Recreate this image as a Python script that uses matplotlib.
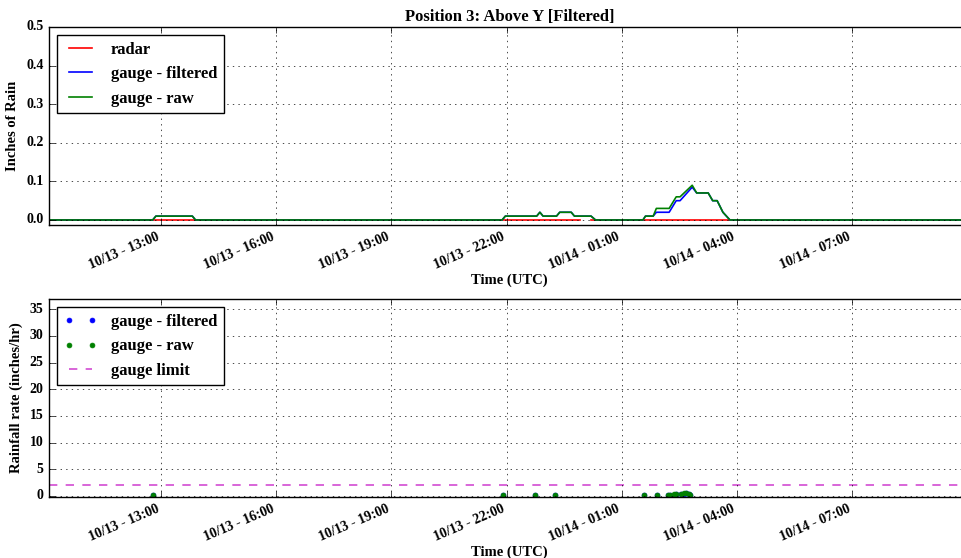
import matplotlib
matplotlib.use("Agg")
import matplotlib.pyplot as plt
import matplotlib.dates as mdates
import numpy as np
import pandas as pd

plt.style.use('classic')
plt.rcParams['font.family'] = ['Liberation Serif', 'DejaVu Serif']
plt.rcParams['font.weight'] = 'bold'
plt.rcParams['axes.labelweight'] = 'bold'
plt.rcParams['axes.titleweight'] = 'bold'

# cumulative rain (inches), breakpoints
gauge_times = ["2015-10-13 10:05", "2015-10-13 12:47", "2015-10-13 12:52", "2015-10-13 13:49",
               "2015-10-13 13:54", "2015-10-13 21:53", "2015-10-13 21:58", "2015-10-13 22:47",
               "2015-10-13 22:52", "2015-10-13 22:57", "2015-10-13 23:18", "2015-10-13 23:23",
               "2015-10-13 23:41", "2015-10-13 23:46", "2015-10-14 00:12", "2015-10-14 00:19",
               "2015-10-14 01:33", "2015-10-14 01:37", "2015-10-14 01:49", "2015-10-14 01:54",
               "2015-10-14 02:14", "2015-10-14 02:25", "2015-10-14 02:31", "2015-10-14 02:50",
               "2015-10-14 02:57", "2015-10-14 03:15", "2015-10-14 03:22", "2015-10-14 03:29",
               "2015-10-14 03:38", "2015-10-14 03:49", "2015-10-14 10:05"]
gauge_raw = [0, 0, 0.01, 0.01, 0, 0, 0.01, 0.01, 0.02, 0.01, 0.01, 0.02, 0.02, 0.01, 0.01, 0,
             0, 0.01, 0.01, 0.03, 0.03, 0.06, 0.06, 0.09, 0.07, 0.07, 0.05, 0.05, 0.02, 0, 0]
gauge_filtered = [0, 0, 0.01, 0.01, 0, 0, 0.01, 0.01, 0.02, 0.01, 0.01, 0.02, 0.02, 0.01, 0.01, 0,
                  0, 0.01, 0.01, 0.02, 0.02, 0.05, 0.05, 0.085, 0.07, 0.07, 0.05, 0.05, 0.02, 0, 0]

radar_times = ["2015-10-13 10:05", "2015-10-13 23:55", "2015-10-14 00:03",
               "2015-10-14 00:12", "2015-10-14 10:05"]
radar_vals = [0, 0, np.nan, 0, 0]

# rainfall rate (inches/hr)
rate_times = ["2015-10-13 12:47", "2015-10-13 21:54", "2015-10-13 22:45", "2015-10-13 23:16",
              "2015-10-14 01:35", "2015-10-14 01:55", "2015-10-14 02:12", "2015-10-14 02:16",
              "2015-10-14 02:21", "2015-10-14 02:25", "2015-10-14 02:33", "2015-10-14 02:37",
              "2015-10-14 02:41", "2015-10-14 02:45", "2015-10-14 02:47"]
rate_raw = [0.12, 0.12, 0.12, 0.12, 0.12, 0.12, 0.24, 0.24, 0.36, 0.36, 0.36, 0.48, 0.48, 0.36, 0.24]
rate_filtered = [0.12, 0.12, 0.12, 0.12, 0.12, 0.12, 0.12, 0.24, 0.24, 0.36, 0.36, 0.36, 0.48, 0.36, 0.24]
gauge_limit = 2.0

t_start = pd.Timestamp("2015-10-13 10:05")
t_end = pd.Timestamp("2015-10-14 10:05")

gt = pd.to_datetime(gauge_times)
rt = pd.to_datetime(radar_times)
pt = pd.to_datetime(rate_times)

fig = plt.figure(figsize=(9.61, 5.58), dpi=100)
fig.patch.set_facecolor('white')
ax1 = fig.add_axes([49/961, 1-225/558, 921.6/961, 198/558])
ax2 = fig.add_axes([49/961, 1-497/558, 921.6/961, 198/558])

ax1.plot(rt, radar_vals, 'r-', lw=1.2, label='radar')
ax1.plot(gt, gauge_filtered, 'b-', lw=1.2, label='gauge - filtered')
ax1.plot(gt, gauge_raw, 'g-', lw=1.2, label='gauge - raw')
ax1.set_ylim(-0.013, 0.5)
ax1.set_yticks([0.0, 0.1, 0.2, 0.3, 0.4, 0.5])
ax1.set_ylabel('Inches of Rain', fontsize=10.5)
ax1.set_title('Position 3: Above Y [Filtered]', fontsize=12, pad=4)

ax2.plot(pt, rate_filtered, 'b.', ms=7, label='gauge - filtered')
ax2.plot(pt, rate_raw, 'g.', ms=7, label='gauge - raw')
ax2.plot([t_start, t_end], [gauge_limit, gauge_limit], 'm--', lw=1.2, alpha=0.7, label='gauge limit')
ax2.set_ylim(-0.2, 36.9)
ax2.set_yticks([0, 5, 10, 15, 20, 25, 30, 35])
ax2.set_ylabel('Rainfall rate (inches/hr)', fontsize=10.5)

for ax in (ax1, ax2):
    ax.set_xlim(t_start, t_end)
    ax.xaxis.set_major_locator(mdates.HourLocator(byhour=[1, 4, 7, 13, 16, 19, 22]))
    ax.xaxis.set_major_formatter(mdates.DateFormatter('%m/%d - %H:%M'))
    ax.set_xlabel('Time (UTC)', fontsize=10.5, labelpad=1)
    ax.grid(True)
    ax.tick_params(labelsize=10)
    for lab in ax.get_xticklabels():
        lab.set_rotation(23)
        lab.set_ha('right')
        lab.set_fontweight('bold')
    for lab in ax.get_yticklabels():
        lab.set_fontweight('bold')
    leg = ax.legend(loc='upper left', prop={'weight': 'bold', 'size': 12})

fig.savefig('out.png', dpi=100, facecolor='white')
